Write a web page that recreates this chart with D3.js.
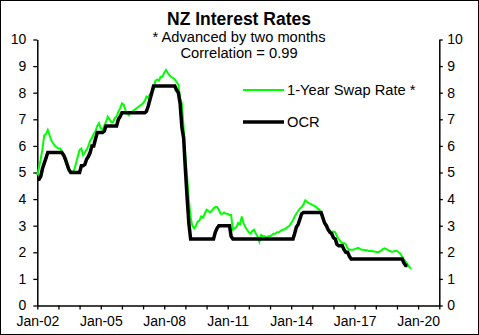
<!DOCTYPE html>
<html>
<head>
<meta charset="utf-8">
<script src="https://cdn.jsdelivr.net/npm/d3@7/dist/d3.min.js"></script>
<style>
  html, body { margin: 0; padding: 0; background: #fff; }
  svg { display: block; }
  text { font-family: "Liberation Sans", Arial, sans-serif; fill: #000; }
</style>
</head>
<body>
<svg id="chart" width="479" height="335"></svg>
<script>
// ---- Data (monthly, first value = Jan 2002) ----
const startYear = 2002;
const titleText = "NZ Interest Rates";
const subtitleLines = ["* Advanced by two months", "Correlation = 0.99"];
const seriesNames = ["1-Year Swap Rate *", "OCR"];
const yTicks = [0, 1, 2, 3, 4, 5, 6, 7, 8, 9, 10];
const xLabelYears = [2002, 2005, 2008, 2011, 2014, 2017, 2020];

// 1-Year swap rate, advanced by two months (Jan 2002 .. Sep 2019)
const swapRate = [
  4.9, 5.2, 5.5, 5.9, 6.4, 6.45, 6.6, 6.4, 6.2, 6.1, 6.0, 5.95,      // 2002
  5.9, 5.9, 5.8, 5.65, 5.4, 5.2, 5.1, 5.05, 5.0, 5.1, 5.35, 5.6,     // 2003
  5.85, 5.9, 5.65, 5.75, 5.85, 6.0, 6.2, 6.3, 6.45, 6.55, 6.75, 6.85, // 2004
  6.65, 6.6, 6.75, 6.9, 7.1, 7.0, 6.9, 6.9, 7.05, 7.1, 7.3, 7.4,     // 2005
  7.6, 7.55, 7.35, 7.2, 7.15, 7.25, 7.3, 7.35, 7.4, 7.45, 7.5, 7.55, // 2006
  7.6, 7.7, 7.85, 7.8, 7.95, 8.05, 8.1, 8.45, 8.5, 8.45, 8.6, 8.6,   // 2007
  8.75, 8.85, 8.75, 8.65, 8.6, 8.55, 8.5, 8.4, 8.3, 7.8, 7.6, 6.7,   // 2008
  5.6, 4.8, 3.97, 3.3, 3.0, 2.9, 3.0, 3.15, 3.2, 3.35, 3.3, 3.45,    // 2009
  3.6, 3.55, 3.5, 3.55, 3.65, 3.7, 3.7, 3.6, 3.45, 3.45, 3.5, 3.45,  // 2010
  3.45, 3.4, 3.4, 2.85, 2.9, 2.95, 3.1, 3.05, 3.35, 3.1, 2.95, 2.85, // 2011
  2.75, 2.7, 2.8, 2.85, 2.7, 2.6, 2.4, 2.65, 2.6, 2.6, 2.55, 2.6,    // 2012
  2.6, 2.65, 2.7, 2.7, 2.75, 2.75, 2.8, 2.85, 2.85, 2.9, 2.95, 3.0,  // 2013
  3.1, 3.2, 3.35, 3.45, 3.55, 3.65, 3.7, 3.8, 3.95, 3.9, 3.85, 3.82, // 2014
  3.78, 3.75, 3.72, 3.65, 3.6, 3.5, 3.4, 3.1, 3.0, 2.9, 2.8, 2.77,   // 2015
  2.78, 2.75, 2.6, 2.5, 2.4, 2.33, 2.35, 2.3, 2.15, 2.1, 2.1, 2.1,   // 2016
  2.12, 2.15, 2.17, 2.13, 2.1, 2.1, 2.08, 2.08, 2.05, 2.05, 2.05, 2.03, // 2017
  2.02, 2.0, 2.02, 2.05, 2.12, 2.15, 2.12, 2.08, 2.05, 2.02, 2.03, 2.05, // 2018
  2.05, 2.0, 1.95, 1.83, 1.72, 1.65, 1.55, 1.45, 1.38                // 2019
];

// Official Cash Rate (Jan 2002 .. Jul 2019)
const ocr = [
  4.75, 4.75, 4.85, 5.15, 5.35, 5.55, 5.75, 5.75, 5.75, 5.75, 5.75, 5.75, // 2002
  5.75, 5.75, 5.75, 5.65, 5.5, 5.3, 5.1, 5.0, 5.0, 5.0, 5.0, 5.0,         // 2003
  5.0, 5.25, 5.25, 5.3, 5.5, 5.6, 5.75, 6.0, 6.0, 6.25, 6.5, 6.5,         // 2004
  6.5, 6.5, 6.55, 6.75, 6.75, 6.75, 6.75, 6.75, 6.75, 6.75, 7.0, 7.1,     // 2005
  7.25, 7.25, 7.25, 7.25, 7.25, 7.25, 7.25, 7.25, 7.25, 7.25, 7.25, 7.25, // 2006
  7.25, 7.25, 7.3, 7.5, 7.75, 8.0, 8.25, 8.25, 8.25, 8.25, 8.25, 8.25,    // 2007
  8.25, 8.25, 8.25, 8.25, 8.25, 8.25, 8.25, 8.1, 8.0, 7.6, 6.7, 6.3,      // 2008
  5.1, 4.0, 3.1, 2.5, 2.5, 2.5, 2.5, 2.5, 2.5, 2.5, 2.5, 2.5,             // 2009
  2.5, 2.5, 2.5, 2.5, 2.5, 2.75, 2.9, 3.0, 3.0, 3.0, 3.0, 3.0,            // 2010
  3.0, 3.0, 2.6, 2.5, 2.5, 2.5, 2.5, 2.5, 2.5, 2.5, 2.5, 2.5,             // 2011
  2.5, 2.5, 2.5, 2.5, 2.5, 2.5, 2.5, 2.5, 2.5, 2.5, 2.5, 2.5,             // 2012
  2.5, 2.5, 2.5, 2.5, 2.5, 2.5, 2.5, 2.5, 2.5, 2.5, 2.5, 2.5,             // 2013
  2.5, 2.5, 2.7, 2.95, 3.05, 3.25, 3.45, 3.5, 3.5, 3.5, 3.5, 3.5,         // 2014
  3.5, 3.5, 3.5, 3.5, 3.5, 3.5, 3.3, 3.1, 3.0, 2.85, 2.75, 2.7,           // 2015
  2.55, 2.5, 2.3, 2.25, 2.25, 2.25, 2.1, 2.0, 2.0, 1.85, 1.75, 1.75,      // 2016
  1.75, 1.75, 1.75, 1.75, 1.75, 1.75, 1.75, 1.75, 1.75, 1.75, 1.75, 1.75, // 2017
  1.75, 1.75, 1.75, 1.75, 1.75, 1.75, 1.75, 1.75, 1.75, 1.75, 1.75, 1.75, // 2018
  1.75, 1.75, 1.75, 1.75, 1.6, 1.5, 1.5                                   // 2019
];

// ---- Chart ----
const svg = d3.select("#chart");
const W = 479, H = 335;
const plotLeft = 37.3, plotRight = 439.3, plotTop = 39.5, plotBottom = 305.5;

svg.append("rect").attr("x", 0).attr("y", 0).attr("width", W).attr("height", H).attr("fill", "#fff");
svg.append("rect").attr("x", 0.5).attr("y", 0.5).attr("width", W - 1).attr("height", H - 1)
  .attr("fill", "none").attr("stroke", "#000").attr("stroke-width", 1);

const x = d3.scaleTime()
  .domain([new Date(startYear, 0, 1), new Date(2021, 0, 1)])
  .range([plotLeft, plotRight]);
const y = d3.scaleLinear().domain([0, 10]).range([plotBottom, plotTop]);

const monthDate = i => new Date(startYear, i, 1);

function styleAxis(g) {
  g.select(".domain").attr("stroke", "#000").attr("stroke-width", 1.5);
  g.selectAll(".tick line").attr("stroke", "#000").attr("stroke-width", 1.3);
  g.selectAll(".tick text").style("font-size", "14px").style("font-family", '"Liberation Sans", Arial, sans-serif').attr("fill", "#000");
}

// Left axis
const gL = svg.append("g").attr("transform", `translate(${plotLeft},0)`)
  .call(d3.axisLeft(y).tickValues(yTicks).tickSize(4).tickSizeOuter(0).tickPadding(7).tickFormat(d3.format("d")));
styleAxis(gL);

// Right axis
const gR = svg.append("g").attr("transform", `translate(${plotRight},0)`)
  .call(d3.axisRight(y).tickValues(yTicks).tickSize(3.5).tickSizeOuter(0).tickPadding(4.5).tickFormat(d3.format("d")));
styleAxis(gR);

// Bottom axis
const fmt = d3.timeFormat("%y");
const gB = svg.append("g").attr("transform", `translate(0,${plotBottom})`)
  .call(d3.axisBottom(x).ticks(d3.timeYear.every(1)).tickSize(4).tickSizeOuter(0).tickPadding(6.5)
    .tickFormat(d => xLabelYears.includes(d.getFullYear()) ? "Jan-" + fmt(d) : ""));
styleAxis(gB);

// Lines
const line = d3.line().x((d, i) => x(monthDate(i))).y(d => y(d));
svg.append("path").datum(swapRate).attr("d", line)
  .attr("fill", "none").attr("stroke", "#00ff00").attr("stroke-width", 2);
svg.append("path").datum(ocr).attr("d", line)
  .attr("fill", "none").attr("stroke", "#000").attr("stroke-width", 3.5);

// Title & subtitle
svg.append("text").attr("x", 239).attr("y", 25).attr("text-anchor", "middle")
  .style("font-size", "17.5px").style("font-weight", "bold").text(titleText);
subtitleLines.forEach((t, i) => {
  svg.append("text").attr("x", 239).attr("y", 41.7 + i * 16.6).attr("text-anchor", "middle")
    .style("font-size", "14.7px").text(t);
});

// Legend
const legend = [
  { name: seriesNames[0], color: "#00ff00", width: 2, y: 90 },
  { name: seriesNames[1], color: "#000", width: 3.5, y: 122 }
];
legend.forEach(l => {
  svg.append("line").attr("x1", 243).attr("x2", 284).attr("y1", l.y).attr("y2", l.y)
    .attr("stroke", l.color).attr("stroke-width", l.width);
  svg.append("text").attr("x", 287).attr("y", l.y).attr("dy", "0.35em")
    .style("font-size", "14.7px").text(l.name);
});
</script>
</body>
</html>
